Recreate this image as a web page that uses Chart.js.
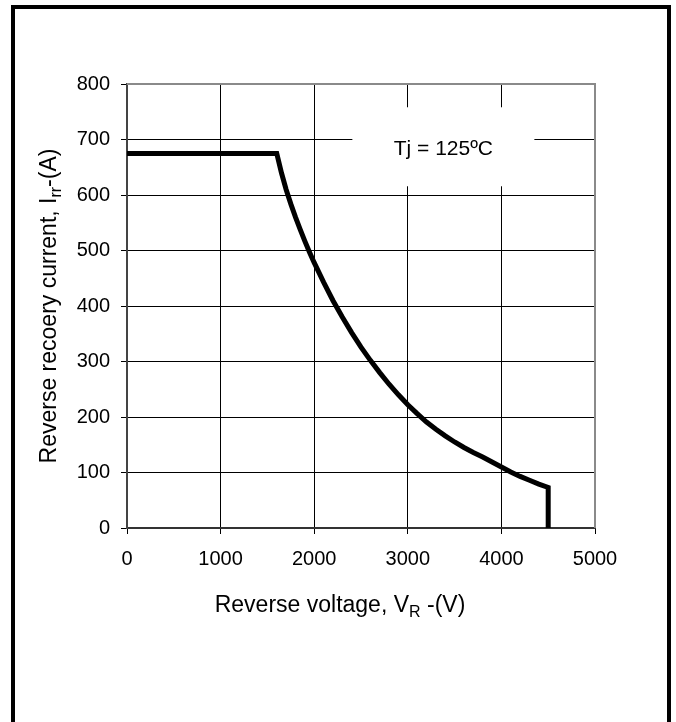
<!DOCTYPE html>
<html>
<head>
<meta charset="utf-8">
<script src="https://cdn.jsdelivr.net/npm/chart.js@4/dist/chart.umd.min.js"></script>
<style>
  body { margin: 0; background: #fff; }
  canvas { display: block; }
</style>
</head>
<body>
<canvas id="irrChart" width="676" height="722"></canvas>
<script>
// reverse voltage (V) and reverse recovery current (A)
const voltage = [0, 1600, 1650, 1700, 1750, 1800, 1850, 1900, 1950, 2000, 2100, 2200, 2300, 2400, 2500,
                 2600, 2700, 2800, 2900, 3000, 3100, 3200, 3300, 3400, 3500, 3600, 3700, 3800, 3900,
                 4000, 4100, 4200, 4300, 4400, 4500, 4500];
const current = [675, 675, 640, 610, 584, 560, 538, 517, 497, 478, 443, 410, 380, 352, 326,
                 302, 280, 259, 240, 222, 206, 191, 178, 166, 155, 145, 136, 128, 119,
                 110, 101, 93, 86, 79, 73, 0];
const xTicks = [0, 1000, 2000, 3000, 4000, 5000];
const yTicks = [0, 100, 200, 300, 400, 500, 600, 700, 800];
const noteText = 'Tj = 125ºC';

const FONT = 'Arial, "Liberation Sans", sans-serif';

// draws text made of [string, size, baseline shift] pieces starting at x
function drawParts(c, parts, x, y) {
    parts.forEach(p => {
        c.font = p[1] + 'px ' + FONT;
        c.fillText(p[0], x, y + p[2]);
        x += c.measureText(p[0]).width;
    });
}
function partsWidth(c, parts) {
    let w = 0;
    parts.forEach(p => { c.font = p[1] + 'px ' + FONT; w += c.measureText(p[0]).width; });
    return w;
}

// outer frame, plot frame, note box and axis titles with subscripts
const extras = {
    id: 'extras',
    beforeDraw(chart) {
        const c = chart.ctx;
        c.save();
        c.fillStyle = '#fff';
        c.fillRect(0, 0, chart.width, chart.height);
        c.restore();
    },
    beforeDatasetsDraw(chart) {
        const c = chart.ctx, a = chart.chartArea;
        const x = chart.scales.x, y = chart.scales.y;
        c.save();
        // top + right edge of the plot, gray
        c.strokeStyle = '#8a8a8a';
        c.lineWidth = 2;
        c.beginPath();
        c.moveTo(a.left, a.top);
        c.lineTo(a.right, a.top);
        c.lineTo(a.right, a.bottom);
        c.stroke();
        // white box behind the note
        const cx = x.getPixelForValue(3380), cy = y.getPixelForValue(686);
        c.fillStyle = '#fff';
        c.fillRect(cx - 91, cy - 40, 182, 79);
        c.fillStyle = '#000';
        c.font = '21px ' + FONT;
        c.textAlign = 'center';
        c.textBaseline = 'alphabetic';
        c.fillText(noteText, cx, cy + 8);
        c.restore();
    },
    afterDraw(chart) {
        const c = chart.ctx, a = chart.chartArea;
        c.save();
        // outer black frame, open at the bottom
        c.strokeStyle = '#000';
        c.lineWidth = 4;
        c.beginPath();
        c.moveTo(13, chart.height);
        c.lineTo(13, 7);
        c.lineTo(669, 7);
        c.lineTo(669, chart.height);
        c.stroke();

        c.fillStyle = '#000';
        c.textAlign = 'left';
        c.textBaseline = 'alphabetic';
        // x title: Reverse voltage, V_R -(V)
        const xp = [['Reverse voltage, V', 23, 0], ['R', 16, 5], [' -(V)', 23, 0]];
        drawParts(c, xp, (a.left + a.right) / 2 - 21 - partsWidth(c, xp) / 2, 612);
        // y title rotated: Reverse recoery current, I_rr-(A)
        const yp = [['Reverse recoery current, I', 23, 0], ['rr', 16, 5], ['-(A)', 23, 0]];
        c.translate(56, (a.top + a.bottom) / 2);
        c.rotate(-Math.PI / 2);
        drawParts(c, yp, -partsWidth(c, yp) / 2, 0);
        c.restore();
    }
};

new Chart(document.getElementById('irrChart'), {
    type: 'line',
    data: {
        labels: voltage,
        datasets: [{
            data: voltage.map((v, i) => ({ x: v, y: current[i] })),
            borderColor: '#000',
            borderWidth: 5,
            borderJoinStyle: 'miter',
            pointRadius: 0,
            tension: 0,
            fill: false
        }]
    },
    options: {
        responsive: false,
        animation: false,
        devicePixelRatio: 1,
        layout: { padding: { top: 84, right: 81, left: 0, bottom: 0 } },
        plugins: { legend: { display: false }, tooltip: { enabled: false } },
        scales: {
            x: {
                type: 'linear',
                min: 0, max: 5000,
                afterFit(s) { s.height = 194; },
                afterBuildTicks(s) { s.ticks = xTicks.map(v => ({ value: v })); },
                grid: { color: '#000', lineWidth: 1, tickLength: 6, drawTicks: true },
                border: { color: '#333', width: 2 },
                ticks: { color: '#000', font: { family: FONT, size: 20 }, padding: 13, maxRotation: 0,
                         callback: v => String(v) }
            },
            y: {
                type: 'linear',
                min: 0, max: 800,
                afterFit(s) { s.width = 127; },
                afterBuildTicks(s) { s.ticks = yTicks.map(v => ({ value: v })); },
                grid: { color: '#000', lineWidth: 1, tickLength: 6, drawTicks: true },
                border: { color: '#444', width: 2 },
                ticks: { color: '#000', font: { family: FONT, size: 20 }, padding: 11,
                         callback: v => String(v) }
            }
        }
    },
    plugins: [extras]
});
</script>
</body>
</html>
